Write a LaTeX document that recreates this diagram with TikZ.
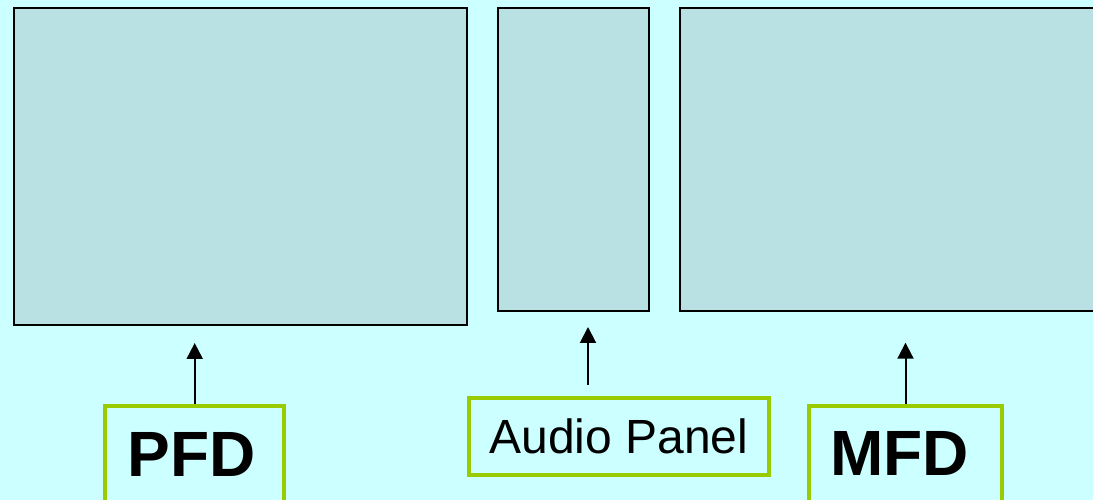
\documentclass[tikz,border=0pt]{standalone}
\usepackage{fontspec}
\setmainfont{Liberation Sans}
\usetikzlibrary{arrows.meta}
\definecolor{bgcyan}{HTML}{CCFFFF}
\definecolor{screenfill}{HTML}{B9E0E2}
\definecolor{framegreen}{HTML}{99CC00}
\tikzset{
  screen/.style={draw=black, line width=2pt, fill=screenfill, inner sep=0pt},
  labelbox/.style={draw=framegreen, line width=4pt, fill=bgcyan},
  bigname/.style={labelbox, font=\fontsize{64}{64}\selectfont\bfseries,
    text height=46pt, text depth=120pt, inner ysep=25pt, align=left},
  pointer/.style={draw=black, line width=2pt, -{Triangle[length=16pt,width=16pt]}}
}
\begin{document}
\begin{tikzpicture}[x=1pt,y=1pt]
  \useasboundingbox (0,0) rectangle (1093,500);
  \clip (0,0) rectangle (1093,500);
  \fill[bgcyan] (0,0) rectangle (1093,500);

  % display screens
  \node[screen, minimum width=453pt, minimum height=317pt] (pfdscr) at (240.5,333.2) {};
  \node[screen, minimum width=150.7pt, minimum height=302.4pt] (audioscr) at (573.35,340.5) {};
  \node[screen, minimum width=440pt, minimum height=302.4pt, anchor=west] (mfdscr) at (679,340.5) {};

  % captions
  \node[bigname, anchor=north, inner xsep=22.5pt, text width=133.7pt] (pfd) at (194.7,96) {PFD};
  \node[labelbox, minimum width=300pt, minimum height=77pt, inner sep=0pt,
        font=\fontsize{48}{48}\selectfont] (audio) at (619,63.5) {Audio Panel};
  \node[bigname, anchor=north, inner ysep=24pt, inner xsep=21.5pt, text width=150pt] (mfd) at (905.5,96) {MFD};

  % pointers from captions to screens
  \draw[pointer, shorten >=16.7pt] (pfd.north) -- (pfd.north |- pfdscr.south);
  \draw[pointer, shorten <=11pt, shorten >=15.3pt] (audio.north -| 588,0) -- (588,0 |- audioscr.south);
  \draw[pointer, shorten >=31pt] (mfd.north) -- (mfd.north |- mfdscr.south);
\end{tikzpicture}
\end{document}
